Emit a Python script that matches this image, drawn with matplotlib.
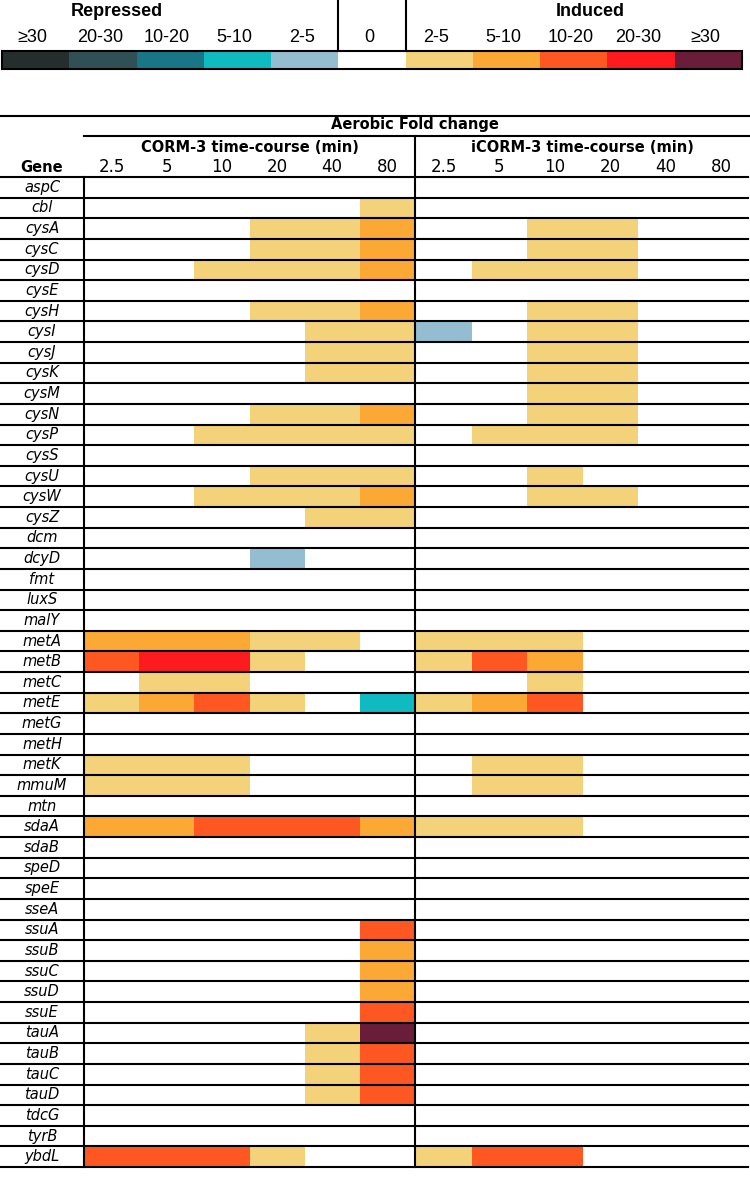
import numpy as np
import matplotlib
matplotlib.use("Agg")
import matplotlib.pyplot as plt
from matplotlib.colors import ListedColormap, BoundaryNorm

# ---------------- data ----------------
genes = ["aspC", "cbl", "cysA", "cysC", "cysD", "cysE", "cysH", "cysI", "cysJ", "cysK",
         "cysM", "cysN", "cysP", "cysS", "cysU", "cysW", "cysZ", "dcm", "dcyD", "fmt",
         "luxS", "malY", "metA", "metB", "metC", "metE", "metG", "metH", "metK", "mmuM",
         "mtn", "sdaA", "sdaB", "speD", "speE", "sseA", "ssuA", "ssuB", "ssuC", "ssuD",
         "ssuE", "tauA", "tauB", "tauC", "tauD", "tdcG", "tyrB", "ybdL"]
times = ["2.5", "5", "10", "20", "40", "80"]

# class codes: 0 = no change; +1..+5 induced (2-5,5-10,10-20,20-30,>=30); -1..-5 repressed
corm3 = [
    [0, 0, 0, 0, 0, 0],  # aspC
    [0, 0, 0, 0, 0, 1],  # cbl
    [0, 0, 0, 1, 1, 2],  # cysA
    [0, 0, 0, 1, 1, 2],  # cysC
    [0, 0, 1, 1, 1, 2],  # cysD
    [0, 0, 0, 0, 0, 0],  # cysE
    [0, 0, 0, 1, 1, 2],  # cysH
    [0, 0, 0, 0, 1, 1],  # cysI
    [0, 0, 0, 0, 1, 1],  # cysJ
    [0, 0, 0, 0, 1, 1],  # cysK
    [0, 0, 0, 0, 0, 0],  # cysM
    [0, 0, 0, 1, 1, 2],  # cysN
    [0, 0, 1, 1, 1, 1],  # cysP
    [0, 0, 0, 0, 0, 0],  # cysS
    [0, 0, 0, 1, 1, 1],  # cysU
    [0, 0, 1, 1, 1, 2],  # cysW
    [0, 0, 0, 0, 1, 1],  # cysZ
    [0, 0, 0, 0, 0, 0],  # dcm
    [0, 0, 0, -1, 0, 0],  # dcyD
    [0, 0, 0, 0, 0, 0],  # fmt
    [0, 0, 0, 0, 0, 0],  # luxS
    [0, 0, 0, 0, 0, 0],  # malY
    [2, 2, 2, 1, 1, 0],  # metA
    [3, 4, 4, 1, 0, 0],  # metB
    [0, 1, 1, 0, 0, 0],  # metC
    [1, 2, 3, 1, 0, -2],  # metE
    [0, 0, 0, 0, 0, 0],  # metG
    [0, 0, 0, 0, 0, 0],  # metH
    [1, 1, 1, 0, 0, 0],  # metK
    [1, 1, 1, 0, 0, 0],  # mmuM
    [0, 0, 0, 0, 0, 0],  # mtn
    [2, 2, 3, 3, 3, 2],  # sdaA
    [0, 0, 0, 0, 0, 0],  # sdaB
    [0, 0, 0, 0, 0, 0],  # speD
    [0, 0, 0, 0, 0, 0],  # speE
    [0, 0, 0, 0, 0, 0],  # sseA
    [0, 0, 0, 0, 0, 3],  # ssuA
    [0, 0, 0, 0, 0, 2],  # ssuB
    [0, 0, 0, 0, 0, 2],  # ssuC
    [0, 0, 0, 0, 0, 2],  # ssuD
    [0, 0, 0, 0, 0, 3],  # ssuE
    [0, 0, 0, 0, 1, 5],  # tauA
    [0, 0, 0, 0, 1, 3],  # tauB
    [0, 0, 0, 0, 1, 3],  # tauC
    [0, 0, 0, 0, 1, 3],  # tauD
    [0, 0, 0, 0, 0, 0],  # tdcG
    [0, 0, 0, 0, 0, 0],  # tyrB
    [3, 3, 3, 1, 0, 0],  # ybdL
]
icorm3 = [
    [0, 0, 0, 0, 0, 0],  # aspC
    [0, 0, 0, 0, 0, 0],  # cbl
    [0, 0, 1, 1, 0, 0],  # cysA
    [0, 0, 1, 1, 0, 0],  # cysC
    [0, 1, 1, 1, 0, 0],  # cysD
    [0, 0, 0, 0, 0, 0],  # cysE
    [0, 0, 1, 1, 0, 0],  # cysH
    [-1, 0, 1, 1, 0, 0],  # cysI
    [0, 0, 1, 1, 0, 0],  # cysJ
    [0, 0, 1, 1, 0, 0],  # cysK
    [0, 0, 1, 1, 0, 0],  # cysM
    [0, 0, 1, 1, 0, 0],  # cysN
    [0, 1, 1, 1, 0, 0],  # cysP
    [0, 0, 0, 0, 0, 0],  # cysS
    [0, 0, 1, 0, 0, 0],  # cysU
    [0, 0, 1, 1, 0, 0],  # cysW
    [0, 0, 0, 0, 0, 0],  # cysZ
    [0, 0, 0, 0, 0, 0],  # dcm
    [0, 0, 0, 0, 0, 0],  # dcyD
    [0, 0, 0, 0, 0, 0],  # fmt
    [0, 0, 0, 0, 0, 0],  # luxS
    [0, 0, 0, 0, 0, 0],  # malY
    [1, 1, 1, 0, 0, 0],  # metA
    [1, 3, 2, 0, 0, 0],  # metB
    [0, 0, 1, 0, 0, 0],  # metC
    [1, 2, 3, 0, 0, 0],  # metE
    [0, 0, 0, 0, 0, 0],  # metG
    [0, 0, 0, 0, 0, 0],  # metH
    [0, 1, 1, 0, 0, 0],  # metK
    [0, 1, 1, 0, 0, 0],  # mmuM
    [0, 0, 0, 0, 0, 0],  # mtn
    [1, 1, 1, 0, 0, 0],  # sdaA
    [0, 0, 0, 0, 0, 0],  # sdaB
    [0, 0, 0, 0, 0, 0],  # speD
    [0, 0, 0, 0, 0, 0],  # speE
    [0, 0, 0, 0, 0, 0],  # sseA
    [0, 0, 0, 0, 0, 0],  # ssuA
    [0, 0, 0, 0, 0, 0],  # ssuB
    [0, 0, 0, 0, 0, 0],  # ssuC
    [0, 0, 0, 0, 0, 0],  # ssuD
    [0, 0, 0, 0, 0, 0],  # ssuE
    [0, 0, 0, 0, 0, 0],  # tauA
    [0, 0, 0, 0, 0, 0],  # tauB
    [0, 0, 0, 0, 0, 0],  # tauC
    [0, 0, 0, 0, 0, 0],  # tauD
    [0, 0, 0, 0, 0, 0],  # tdcG
    [0, 0, 0, 0, 0, 0],  # tyrB
    [1, 3, 3, 0, 0, 0],  # ybdL
]

legend_labels = ["\u226530", "20-30", "10-20", "5-10", "2-5", "0",
                 "2-5", "5-10", "10-20", "20-30", "\u226530"]
legend_codes = [-5, -4, -3, -2, -1, 0, 1, 2, 3, 4, 5]

# ---------------- style ----------------
colors = ["#262d2d", "#2f5054", "#187686", "#0fbbc0", "#94bdd1", "#ffffff",
          "#f4d27a", "#fba834", "#fe5722", "#fe1b1f", "#691d38"]
cmap = ListedColormap(colors)
norm = BoundaryNorm(np.arange(-5.5, 6.5, 1.0), cmap.N)

W, H = 750, 1201
fig = plt.figure(figsize=(W / 100, H / 100), dpi=100)
ax = fig.add_axes([0, 0, 1, 1])
ax.set_xlim(0, W)
ax.set_ylim(H, 0)
ax.axis("off")

lw = 1.5
lfont = ["Liberation Sans", "DejaVu Sans"]
tfont = ["DejaVu Sans"]

# ---------------- legend ----------------
bar_x0, bar_x1, bar_y0, bar_y1 = 2, 742, 51, 69
lx = np.linspace(bar_x0, bar_x1, len(legend_codes) + 1)
ax.pcolormesh(lx, [bar_y0, bar_y1], np.array([legend_codes]), cmap=cmap, norm=norm)
ax.add_patch(plt.Rectangle((bar_x0, bar_y0), bar_x1 - bar_x0, bar_y1 - bar_y0,
                           fill=False, lw=lw, ec="black", zorder=5))
for i, lab in enumerate(legend_labels):
    ax.text((lx[i] + lx[i + 1]) / 2 - 3, 38, lab, ha="center", va="center",
            fontsize=13, family=lfont)
ax.plot([lx[5], lx[5]], [0, bar_y0], color="black", lw=lw)
ax.plot([lx[6], lx[6]], [0, bar_y0], color="black", lw=lw)
ax.text(117, 11, "Repressed", ha="center", va="center",
        fontsize=13, fontweight="bold", family=lfont)
ax.text(590, 11, "Induced", ha="center", va="center",
        fontsize=13, fontweight="bold", family=lfont)

# ---------------- table ----------------
top_line = 116
sub_line = 136
row_top = 177
row_bot = 1167
x_gene_r = 84
x_mid = 415
x_right = 749
n = len(genes)
ye = np.linspace(row_top, row_bot, n + 1)
xl = np.linspace(x_gene_r, x_mid, len(times) + 1)
xr = np.linspace(x_mid + 1, x_right, len(times) + 1)

ax.pcolormesh(xl, ye, np.array(corm3), cmap=cmap, norm=norm)
ax.pcolormesh(xr, ye, np.array(icorm3), cmap=cmap, norm=norm)

# lines
ax.plot([0, 750], [top_line, top_line], color="black", lw=lw)
ax.plot([x_gene_r, 750], [sub_line, sub_line], color="black", lw=lw)
for y in ye:
    ax.plot([0, 748], [y, y], color="black", lw=lw, zorder=4)
ax.plot([x_gene_r, x_gene_r], [row_top, row_bot], color="black", lw=lw, zorder=4)
ax.plot([x_mid, x_mid], [sub_line, row_bot], color="black", lw=lw, zorder=4)

# headers
ax.text(415, 125, "Aerobic Fold change", ha="center", va="center",
        fontsize=10.5, fontweight="bold", family=tfont)
ax.text((xl[0] + xl[-1]) / 2, 147, "CORM-3 time-course (min)", ha="center", va="center",
        fontsize=10.5, fontweight="bold", family=tfont)
ax.text((xr[0] + xr[-1]) / 2, 147, "iCORM-3 time-course (min)", ha="center", va="center",
        fontsize=10.5, fontweight="bold", family=tfont)
ax.text(42, 167, "Gene", ha="center", va="center", fontsize=10.5, fontweight="bold",
        family=tfont)
for i, t in enumerate(times):
    ax.text((xl[i] + xl[i + 1]) / 2, 167, t, ha="center", va="center", fontsize=12,
            family=tfont)
    ax.text((xr[i] + xr[i + 1]) / 2, 167, t, ha="center", va="center", fontsize=12,
            family=tfont)

for i, g in enumerate(genes):
    ax.text(42, (ye[i] + ye[i + 1]) / 2, g, ha="center", va="center", fontsize=10.5,
            style="italic", family=tfont)

fig.savefig("out.png", dpi=100)
